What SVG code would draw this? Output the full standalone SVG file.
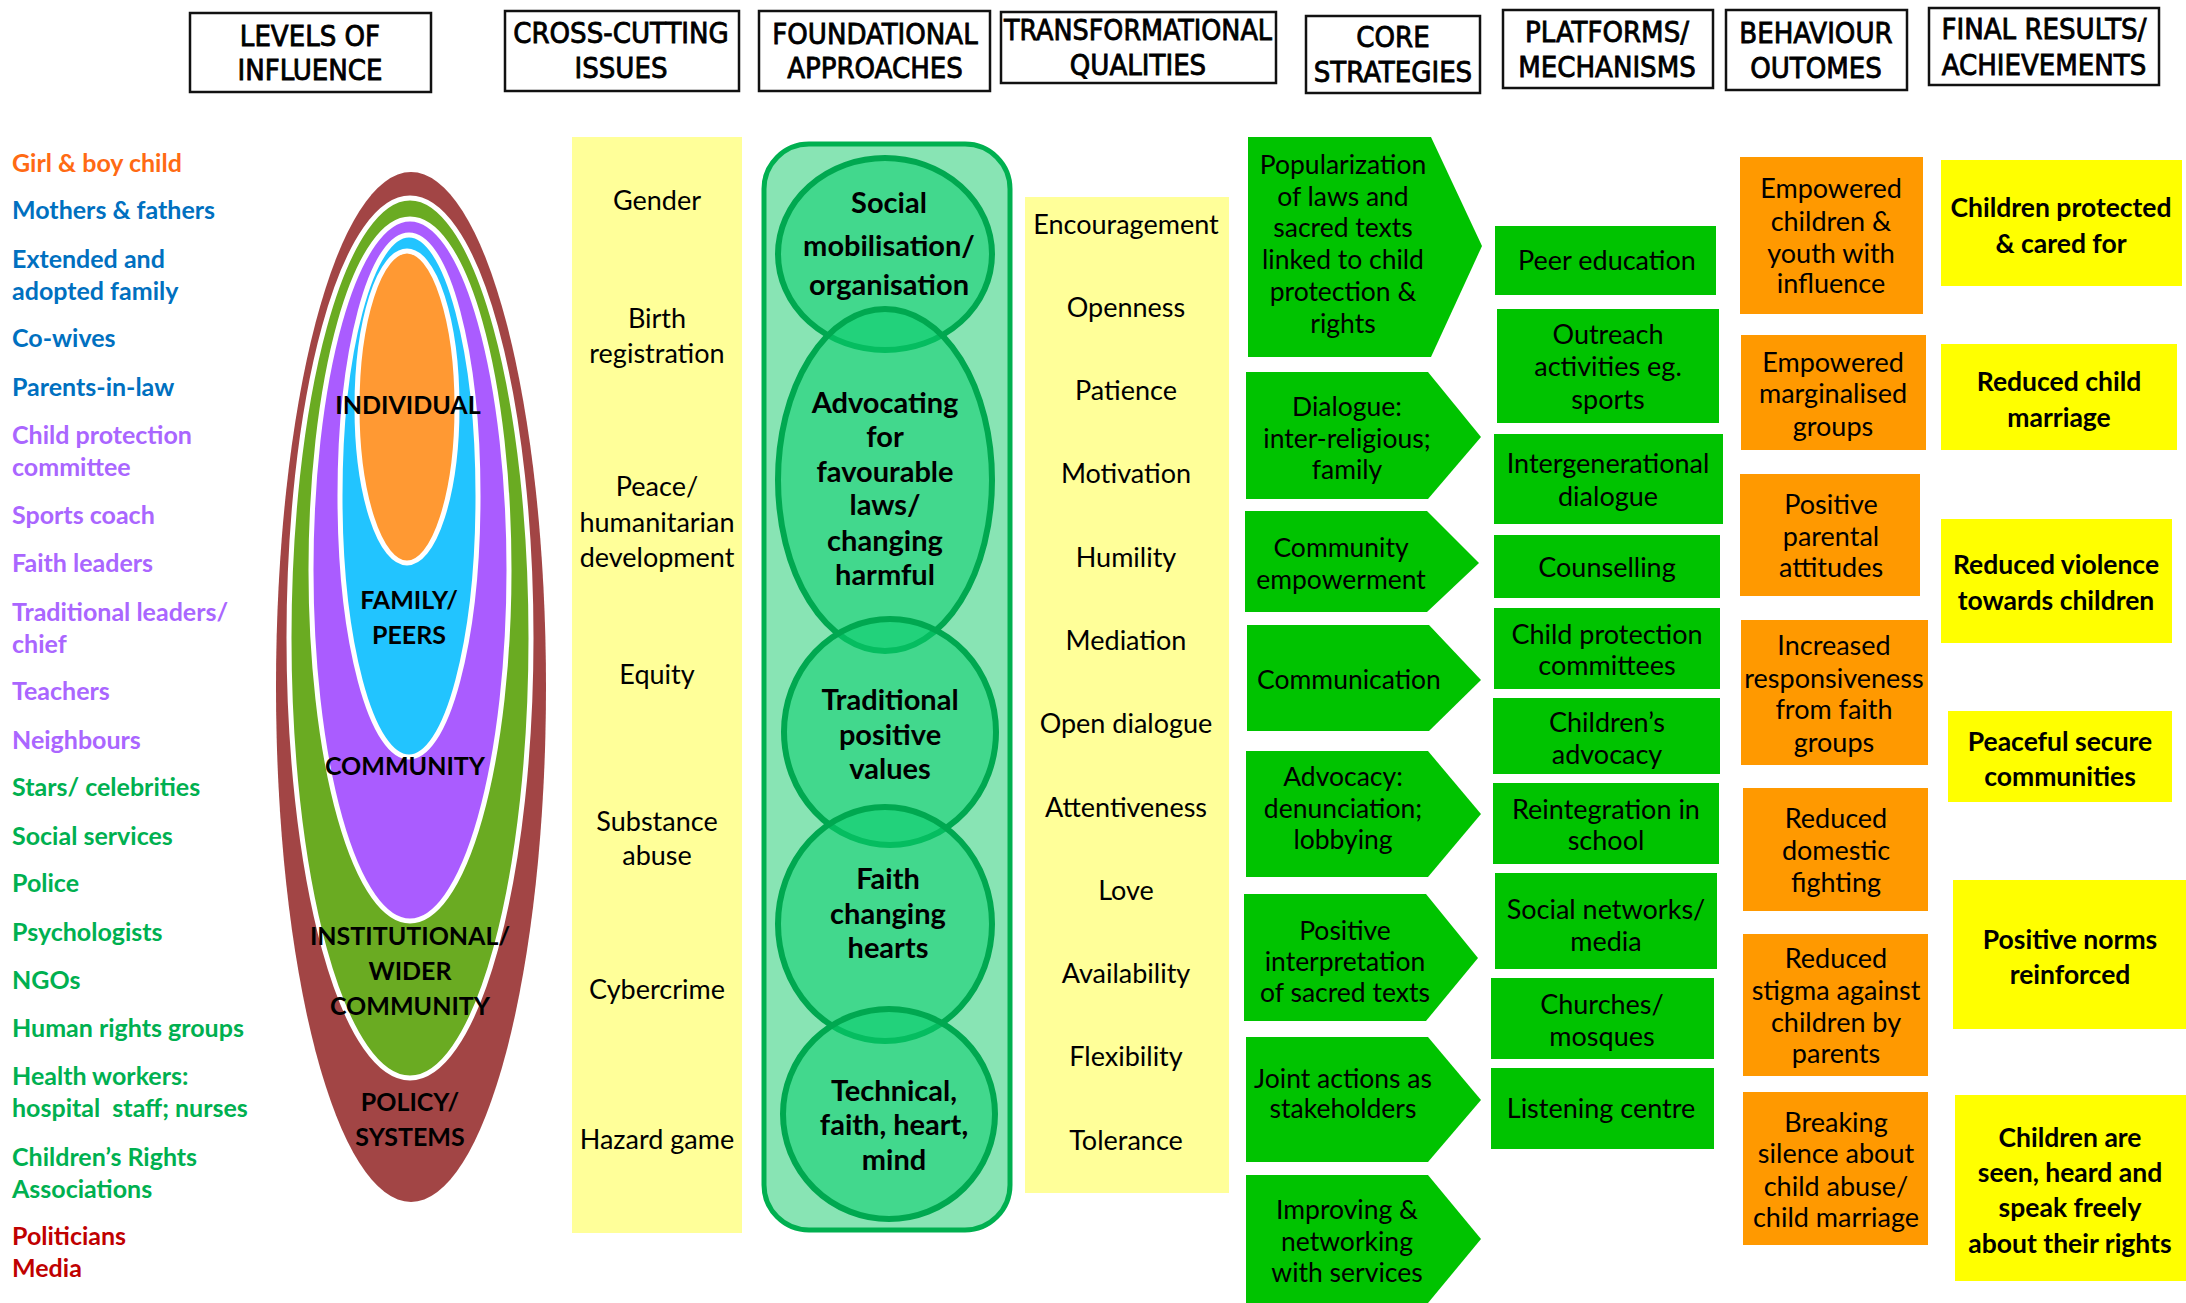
<svg xmlns="http://www.w3.org/2000/svg" width="2186" height="1303" viewBox="0 0 2186 1303">
<style>
text{dominant-baseline:central}
.hd{font-family:"DejaVu Sans Condensed","DejaVu Sans",sans-serif;font-size:29px;text-anchor:middle;fill:#000;stroke:#000;stroke-width:0.8}
.hbox{fill:#fff;stroke:#111;stroke-width:2.5}
.lab{font-family:Lato,"Open Sans",sans-serif;font-weight:700;font-size:25px}
.lv{font-family:Lato,"Open Sans",sans-serif;font-weight:700;font-size:25px;text-anchor:middle;fill:#000}
.reg{font-family:Lato,"Open Sans",sans-serif;font-size:27px;text-anchor:middle;fill:#000}
.cs{font-family:Lato,"Open Sans",sans-serif;font-size:26.5px;text-anchor:middle;fill:#000}
.fa{font-family:Lato,"Open Sans",sans-serif;font-weight:700;font-size:29px;text-anchor:middle;fill:#000}
.fr{font-family:Lato,"Open Sans",sans-serif;font-weight:700;font-size:26.5px;text-anchor:middle;fill:#000}
.or{fill:#FF6A13}.bl{fill:#0070C0}.pu{fill:#AA66FF}.gr{fill:#00B050}.rd{fill:#C00000}
.ring{stroke:#fff;stroke-width:5}
.circ{fill:#0ACD6E;fill-opacity:0.55;stroke:#00A850;stroke-width:6}
.arr{fill:#00C300}
.plat{fill:#00C300}
.beh{fill:#FF9900}
.fin{fill:#FFFF00}
.pale{fill:#FFFF99}
</style>

<g id="headers">
<g id="h-levels"><rect class="hbox" x="190" y="13" width="241" height="79"/><text class="hd" x="310" y="36">LEVELS OF</text><text class="hd" x="310" y="70">INFLUENCE</text></g>
<g id="h-cross"><rect class="hbox" x="505" y="11" width="234" height="80"/><text class="hd" x="621" y="33">CROSS-CUTTING</text><text class="hd" x="621" y="68">ISSUES</text></g>
<g id="h-found"><rect class="hbox" x="759" y="11" width="231" height="80"/><text class="hd" x="875" y="34">FOUNDATIONAL</text><text class="hd" x="875" y="68">APPROACHES</text></g>
<g id="h-trans"><rect class="hbox" x="1001" y="12" width="275" height="71"/><text class="hd" x="1138" y="30" textLength="268" lengthAdjust="spacingAndGlyphs">TRANSFORMATIONAL</text><text class="hd" x="1138" y="65">QUALITIES</text></g>
<g id="h-core"><rect class="hbox" x="1306" y="16" width="174" height="77"/><text class="hd" x="1393" y="37">CORE</text><text class="hd" x="1393" y="72">STRATEGIES</text></g>
<g id="h-plat"><rect class="hbox" x="1503" y="10" width="210" height="78"/><text class="hd" x="1607" y="32">PLATFORMS/</text><text class="hd" x="1607" y="67">MECHANISMS</text></g>
<g id="h-beh"><rect class="hbox" x="1726" y="10" width="181" height="80"/><text class="hd" x="1816" y="33">BEHAVIOUR</text><text class="hd" x="1816" y="68">OUTOMES</text></g>
<g id="h-final"><rect class="hbox" x="1929" y="8" width="230" height="77"/><text class="hd" x="2044" y="29">FINAL RESULTS/</text><text class="hd" x="2044" y="65">ACHIEVEMENTS</text></g>
</g>

<g id="actors">
<text class="lab or" x="12" y="162">Girl &amp; boy child</text>
<text class="lab bl" x="12" y="209">Mothers &amp; fathers</text>
<text class="lab bl" x="12" y="258">Extended and</text>
<text class="lab bl" x="12" y="290">adopted family</text>
<text class="lab bl" x="12" y="337">Co-wives</text>
<text class="lab bl" x="12" y="386">Parents-in-law</text>
<text class="lab pu" x="12" y="434">Child protection</text>
<text class="lab pu" x="12" y="466">committee</text>
<text class="lab pu" x="12" y="514">Sports coach</text>
<text class="lab pu" x="12" y="562">Faith leaders</text>
<text class="lab pu" x="12" y="611">Traditional leaders/</text>
<text class="lab pu" x="12" y="643">chief</text>
<text class="lab pu" x="12" y="690">Teachers</text>
<text class="lab pu" x="12" y="739">Neighbours</text>
<text class="lab gr" x="12" y="786">Stars/ celebrities</text>
<text class="lab gr" x="12" y="835">Social services</text>
<text class="lab gr" x="12" y="882">Police</text>
<text class="lab gr" x="12" y="931">Psychologists</text>
<text class="lab gr" x="12" y="979">NGOs</text>
<text class="lab gr" x="12" y="1027">Human rights groups</text>
<text class="lab gr" x="12" y="1075">Health workers:</text>
<text class="lab gr" x="12" y="1107" xml:space="preserve">hospital  staff; nurses</text>
<text class="lab gr" x="12" y="1156">Children’s Rights</text>
<text class="lab gr" x="12" y="1188">Associations</text>
<text class="lab rd" x="12" y="1235">Politicians</text>
<text class="lab rd" x="12" y="1267">Media</text>
</g>

<g id="levels">
<ellipse cx="411" cy="687" rx="135" ry="515" fill="#A24545"/>
<ellipse class="ring" cx="410" cy="638" rx="121" ry="440" fill="#6AAB22"/>
<ellipse class="ring" cx="410" cy="570" rx="99" ry="351" fill="#AA5CFF"/>
<ellipse class="ring" cx="409" cy="496" rx="69" ry="261" fill="#22C4FF"/>
<ellipse class="ring" cx="407" cy="407" rx="50" ry="156" fill="#FF9933"/>
<text class="lv" x="408" y="404">INDIVIDUAL</text>
<text class="lv" x="409" y="599">FAMILY/</text>
<text class="lv" x="409" y="634">PEERS</text>
<text class="lv" x="405" y="765">COMMUNITY</text>
<text class="lv" x="410" y="935">INSTITUTIONAL/</text>
<text class="lv" x="410" y="970">WIDER</text>
<text class="lv" x="410" y="1005">COMMUNITY</text>
<text class="lv" x="410" y="1101">POLICY/</text>
<text class="lv" x="410" y="1136">SYSTEMS</text>
</g>

<g id="cross-cutting">
<rect class="pale" x="572" y="137" width="170" height="1096"/>
<text class="reg" x="657" y="199">Gender</text>
<text class="reg" x="657" y="317">Birth</text>
<text class="reg" x="657" y="352">registration</text>
<text class="reg" x="657" y="485">Peace/</text>
<text class="reg" x="657" y="521">humanitarian</text>
<text class="reg" x="657" y="556">development</text>
<text class="reg" x="657" y="673">Equity</text>
<text class="reg" x="657" y="820">Substance</text>
<text class="reg" x="657" y="854">abuse</text>
<text class="reg" x="657" y="988">Cybercrime</text>
<text class="reg" x="657" y="1138">Hazard game</text>
</g>

<g id="foundational">
<rect x="764" y="144" width="246" height="1086" rx="45" fill="#88E4B4" stroke="#00B050" stroke-width="5"/>
<g id="fa-social"><ellipse class="circ" cx="885" cy="254" rx="107" ry="96"/></g>
<g id="fa-advocating"><ellipse class="circ" cx="885" cy="480" rx="107" ry="171"/></g>
<g id="fa-traditional"><ellipse class="circ" cx="890" cy="732" rx="106" ry="113"/></g>
<g id="fa-faith"><ellipse class="circ" cx="885" cy="924" rx="107" ry="117"/></g>
<g id="fa-technical"><ellipse class="circ" cx="889" cy="1114" rx="106" ry="105"/></g>
<text class="fa" x="889" y="201">Social</text>
<text class="fa" x="889" y="244">mobilisation/</text>
<text class="fa" x="889" y="283">organisation</text>
<text class="fa" x="885" y="401">Advocating</text>
<text class="fa" x="885" y="435">for</text>
<text class="fa" x="885" y="470">favourable</text>
<text class="fa" x="885" y="503">laws/</text>
<text class="fa" x="885" y="539">changing</text>
<text class="fa" x="885" y="573">harmful</text>
<text class="fa" x="890" y="698">Traditional</text>
<text class="fa" x="890" y="733">positive</text>
<text class="fa" x="890" y="767">values</text>
<text class="fa" x="888" y="877">Faith</text>
<text class="fa" x="888" y="912">changing</text>
<text class="fa" x="888" y="946">hearts</text>
<text class="fa" x="894" y="1089">Technical,</text>
<text class="fa" x="894" y="1123">faith, heart,</text>
<text class="fa" x="894" y="1158">mind</text>
</g>

<g id="qualities">
<rect class="pale" x="1025" y="197" width="204" height="996"/>
<text class="reg" x="1126" y="223">Encouragement</text>
<text class="reg" x="1126" y="306">Openness</text>
<text class="reg" x="1126" y="389">Patience</text>
<text class="reg" x="1126" y="472">Motivation</text>
<text class="reg" x="1126" y="556">Humility</text>
<text class="reg" x="1126" y="639">Mediation</text>
<text class="reg" x="1126" y="722">Open dialogue</text>
<text class="reg" x="1126" y="806">Attentiveness</text>
<text class="reg" x="1126" y="889">Love</text>
<text class="reg" x="1126" y="972">Availability</text>
<text class="reg" x="1126" y="1055">Flexibility</text>
<text class="reg" x="1126" y="1139">Tolerance</text>
</g>

<g id="core-strategies">
<g id="cs1"><polygon class="arr" points="1248,137 1431,137 1482,246 1431,357 1248,357"/>
<text class="cs" x="1343" y="164">Popularization</text><text class="cs" x="1343" y="196">of laws and</text><text class="cs" x="1343" y="227">sacred texts</text><text class="cs" x="1343" y="259">linked to child</text><text class="cs" x="1343" y="291">protection &amp;</text><text class="cs" x="1343" y="323">rights</text></g>
<g id="cs2"><polygon class="arr" points="1246,372 1428,372 1481,437 1428,499 1246,499"/>
<text class="cs" x="1347" y="406">Dialogue:</text><text class="cs" x="1347" y="438">inter-religious;</text><text class="cs" x="1347" y="469">family</text></g>
<g id="cs3"><polygon class="arr" points="1245,511 1427,511 1479,563 1427,612 1245,612"/>
<text class="cs" x="1341" y="547">Community</text><text class="cs" x="1341" y="579">empowerment</text></g>
<g id="cs4"><polygon class="arr" points="1247,625 1429,625 1481,680 1429,731 1247,731"/>
<text class="cs" x="1349" y="679">Communication</text></g>
<g id="cs5"><polygon class="arr" points="1246,751 1428,751 1481,814 1428,877 1246,877"/>
<text class="cs" x="1343" y="776">Advocacy:</text><text class="cs" x="1343" y="808">denunciation;</text><text class="cs" x="1343" y="839">lobbying</text></g>
<g id="cs6"><polygon class="arr" points="1244,894 1426,894 1478,958 1426,1021 1244,1021"/>
<text class="cs" x="1345" y="930">Positive</text><text class="cs" x="1345" y="961">interpretation</text><text class="cs" x="1345" y="992">of sacred texts</text></g>
<g id="cs7"><polygon class="arr" points="1246,1037 1428,1037 1481,1100 1428,1162 1246,1162"/>
<text class="cs" x="1343" y="1078">Joint actions as</text><text class="cs" x="1343" y="1108">stakeholders</text></g>
<g id="cs8"><polygon class="arr" points="1246,1175 1428,1175 1481,1239 1428,1303 1246,1303"/>
<text class="cs" x="1347" y="1209">Improving &amp;</text><text class="cs" x="1347" y="1241">networking</text><text class="cs" x="1347" y="1272">with services</text></g>
</g>

<g id="platforms">
<g id="p1"><rect class="plat" x="1495" y="226" width="221" height="69"/><text class="reg" x="1607" y="259">Peer education</text></g>
<g id="p2"><rect class="plat" x="1497" y="309" width="222" height="114"/><text class="reg" x="1608" y="333">Outreach</text><text class="reg" x="1608" y="365">activities eg.</text><text class="reg" x="1608" y="398">sports</text></g>
<g id="p3"><rect class="plat" x="1494" y="434" width="229" height="90"/><text class="reg" x="1608" y="462">Intergenerational</text><text class="reg" x="1608" y="495">dialogue</text></g>
<g id="p4"><rect class="plat" x="1494" y="535" width="226" height="63"/><text class="reg" x="1607" y="566">Counselling</text></g>
<g id="p5"><rect class="plat" x="1494" y="608" width="226" height="81"/><text class="reg" x="1607" y="633">Child protection</text><text class="reg" x="1607" y="664">committees</text></g>
<g id="p6"><rect class="plat" x="1493" y="698" width="227" height="76"/><text class="reg" x="1607" y="721">Children’s</text><text class="reg" x="1607" y="753">advocacy</text></g>
<g id="p7"><rect class="plat" x="1493" y="783" width="226" height="81"/><text class="reg" x="1606" y="808">Reintegration in</text><text class="reg" x="1606" y="839">school</text></g>
<g id="p8"><rect class="plat" x="1495" y="873" width="222" height="96"/><text class="reg" x="1606" y="908">Social networks/</text><text class="reg" x="1606" y="940">media</text></g>
<g id="p9"><rect class="plat" x="1491" y="978" width="223" height="81"/><text class="reg" x="1602" y="1003">Churches/</text><text class="reg" x="1602" y="1035">mosques</text></g>
<g id="p10"><rect class="plat" x="1491" y="1068" width="223" height="81"/><text class="reg" x="1601" y="1107">Listening centre</text></g>
</g>

<g id="behaviour-outcomes">
<g id="b1"><rect class="beh" x="1740" y="157" width="183" height="157"/><text class="reg" x="1831" y="187">Empowered</text><text class="reg" x="1831" y="220">children &amp;</text><text class="reg" x="1831" y="252">youth with</text><text class="reg" x="1831" y="282">influence</text></g>
<g id="b2"><rect class="beh" x="1741" y="335" width="185" height="115"/><text class="reg" x="1833" y="361">Empowered</text><text class="reg" x="1833" y="392">marginalised</text><text class="reg" x="1833" y="425">groups</text></g>
<g id="b3"><rect class="beh" x="1740" y="474" width="180" height="122"/><text class="reg" x="1831" y="503">Positive</text><text class="reg" x="1831" y="535">parental</text><text class="reg" x="1831" y="566">attitudes</text></g>
<g id="b4"><rect class="beh" x="1741" y="620" width="187" height="145"/><text class="reg" x="1834" y="644">Increased</text><text class="reg" x="1834" y="677">responsiveness</text><text class="reg" x="1834" y="708">from faith</text><text class="reg" x="1834" y="741">groups</text></g>
<g id="b5"><rect class="beh" x="1743" y="788" width="185" height="123"/><text class="reg" x="1836" y="817">Reduced</text><text class="reg" x="1836" y="849">domestic</text><text class="reg" x="1836" y="881">fighting</text></g>
<g id="b6"><rect class="beh" x="1743" y="934" width="185" height="142"/><text class="reg" x="1836" y="957">Reduced</text><text class="reg" x="1836" y="989">stigma against</text><text class="reg" x="1836" y="1021">children by</text><text class="reg" x="1836" y="1052">parents</text></g>
<g id="b7"><rect class="beh" x="1743" y="1092" width="185" height="153"/><text class="reg" x="1836" y="1121">Breaking</text><text class="reg" x="1836" y="1152">silence about</text><text class="reg" x="1836" y="1185">child abuse/</text><text class="reg" x="1836" y="1216">child marriage</text></g>
</g>

<g id="final-results">
<g id="f1"><rect class="fin" x="1941" y="160" width="241" height="126"/><text class="fr" x="2061" y="207">Children protected</text><text class="fr" x="2061" y="243">&amp; cared for</text></g>
<g id="f2"><rect class="fin" x="1941" y="344" width="236" height="106"/><text class="fr" x="2059" y="381">Reduced child</text><text class="fr" x="2059" y="417">marriage</text></g>
<g id="f3"><rect class="fin" x="1941" y="519" width="231" height="124"/><text class="fr" x="2056" y="564">Reduced violence</text><text class="fr" x="2056" y="600">towards children</text></g>
<g id="f4"><rect class="fin" x="1948" y="711" width="224" height="91"/><text class="fr" x="2060" y="741">Peaceful secure</text><text class="fr" x="2060" y="776">communities</text></g>
<g id="f5"><rect class="fin" x="1953" y="880" width="233" height="149"/><text class="fr" x="2070" y="939">Positive norms</text><text class="fr" x="2070" y="974">reinforced</text></g>
<g id="f6"><rect class="fin" x="1955" y="1095" width="231" height="186"/><text class="fr" x="2070" y="1137">Children are</text><text class="fr" x="2070" y="1172">seen, heard and</text><text class="fr" x="2070" y="1207">speak freely</text><text class="fr" x="2070" y="1243">about their rights</text></g>
</g>

<g id="connectors"/>
</svg>
